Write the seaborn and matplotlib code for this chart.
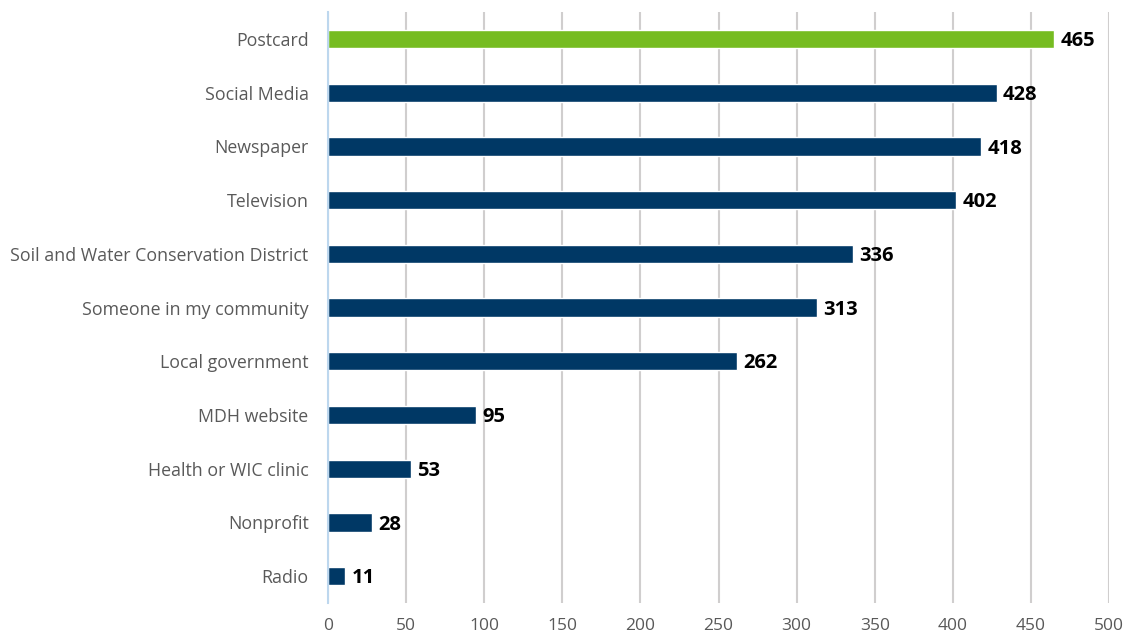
import matplotlib
matplotlib.use("Agg")
import matplotlib.pyplot as plt
import seaborn as sns
import pandas as pd

categories = ["Postcard", "Social Media", "Newspaper", "Television",
              "Soil and Water Conservation District", "Someone in my community",
              "Local government", "MDH website", "Health or WIC clinic",
              "Nonprofit", "Radio"]
values = [465, 428, 418, 402, 336, 313, 262, 95, 53, 28, 11]
x_ticks = [0, 50, 100, 150, 200, 250, 300, 350, 400, 450, 500]

sns.set_theme(style="white")
plt.rcParams['font.family'] = ['Open Sans', 'DejaVu Sans']

df = pd.DataFrame({"cat": categories, "val": values})
palette = ["#76BC21"] + ["#003865"] * (len(categories) - 1)

fig = plt.figure(figsize=(11.26, 6.39), dpi=100)
ax = fig.add_axes([0.2913, 0.0563, 0.6937, 0.9247])
sns.barplot(data=df, x="val", y="cat", hue="cat", palette=palette, legend=False,
            width=0.34, ax=ax, saturation=1, zorder=3)

ax.set_xlim(0, 500)
ax.set_ylim(len(categories) - 0.5, -0.5)
ax.set_xticks(x_ticks)
ax.set_xticklabels([str(t) for t in x_ticks])
ax.xaxis.grid(True, color="#D0CECE", linewidth=1.5, zorder=0)
ax.yaxis.grid(False)
ax.set_xlabel("")
ax.set_ylabel("")
for s in ["top", "right", "bottom"]:
    ax.spines[s].set_visible(False)
ax.spines["left"].set_color("#BDD7EE")
ax.spines["left"].set_linewidth(1.5)
ax.spines["left"].set_zorder(4)
ax.tick_params(axis="x", length=0, pad=11, labelsize=12.5, labelcolor="#595959")
ax.tick_params(axis="y", length=0, pad=14, labelsize=12.8, labelcolor="#595959")

for i, v in enumerate(values):
    ax.text(v + 4, i + 0.04, str(v), va="center", ha="left", fontsize=14.5,
            fontweight="bold", color="black")

fig.savefig("out.png", dpi=100)
